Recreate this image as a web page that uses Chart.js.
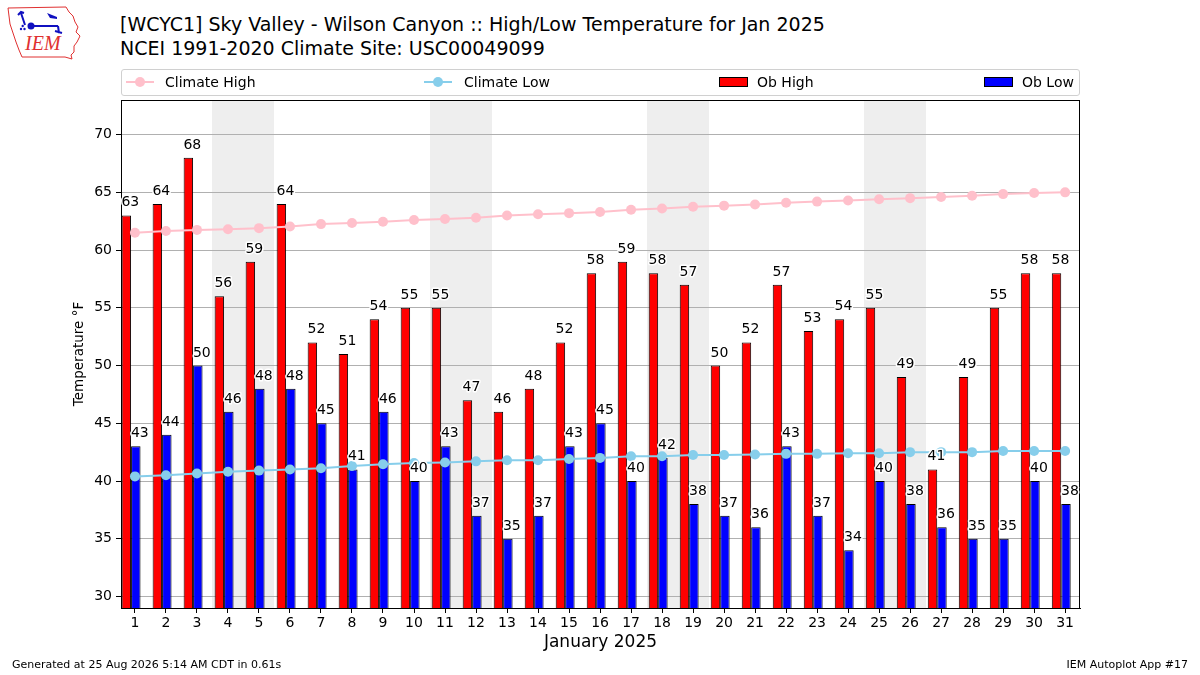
<!DOCTYPE html>
<html>
<head>
<meta charset="utf-8">
<script src="https://cdn.jsdelivr.net/npm/chart.js@4.4.1/dist/chart.umd.min.js"></script>
<style>
  html, body { margin: 0; padding: 0; background: #fff; }
  body { width: 1200px; height: 675px; position: relative; overflow: hidden; font-family: "DejaVu Sans", sans-serif; color: #000; }
  #chart { position: absolute; left: 0; top: 0; }
  .title { position: absolute; left: 120px; font-size: 19px; white-space: nowrap; line-height: 22px; }
  .legend { position: absolute; left: 121px; top: 69px; width: 957px; height: 25px; border: 1px solid #d0d0d0; border-radius: 3px; background: #fff; }
  .legend .item { position: absolute; top: 0; height: 25px; font-size: 14px; line-height: 25px; white-space: nowrap; }
  .legend .line { position: absolute; top: 11px; width: 28px; height: 2px; }
  .legend .dot { position: absolute; top: 7px; left: 9px; width: 10px; height: 10px; border-radius: 50%; }
  .legend .box { position: absolute; top: 7px; width: 27px; height: 8px; border: 1px solid #000; }
  .foot { position: absolute; top: 658px; font-size: 11px; white-space: nowrap; }
</style>
</head>
<body>
<svg style="position:absolute;left:0;top:0" width="90" height="64" viewBox="0 0 90 64">
  <path d="M8 8 L66 7 L69 12 L73 16 L75 22 L78 27 L76 32 L80 36 L77 42 L74 46 L74 52 L71 55 L72 59 L65 57 L22 57 L19 50 L16 42 L13 33 L10 24 L9 16 Z" fill="none" stroke="#e03030" stroke-width="1"/>
  <path d="M21 13 L25 25 M18 15 L21 12 L24 13 M31 26 L58 26 M58 26 L59 33 M55 31 L62 33" fill="none" stroke="#1010c0" stroke-width="2"/>
  <path d="M47 13 L57 17 L57 19 L50 18 Z" fill="#1010c0"/>
  <circle cx="31" cy="26" r="3.5" fill="#1010c0"/>
  <circle cx="21" cy="29" r="1.2" fill="#1010c0"/><circle cx="24.5" cy="29" r="1.2" fill="#1010c0"/><circle cx="22.7" cy="26" r="1.2" fill="#1010c0"/>
  <text x="25" y="50" font-family="Liberation Serif, DejaVu Serif, serif" font-style="italic" font-size="20" fill="#e03030">IEM</text>
</svg>
<div class="title" style="top:13px">[WCYC1] Sky Valley - Wilson Canyon :: High/Low Temperature for Jan 2025</div>
<div class="title" style="top:37px">NCEI 1991-2020 Climate Site: USC00049099</div>
<canvas id="chart" width="1200" height="675"></canvas>
<div class="legend">
  <div class="item" style="left:4px"><span class="line" style="left:0;background:#ffc0cb"></span><span class="dot" style="background:#ffc0cb"></span><span style="margin-left:39px">Climate High</span></div>
  <div class="item" style="left:302px"><span class="line" style="left:0;background:#87ceeb"></span><span class="dot" style="background:#87ceeb"></span><span style="margin-left:40px">Climate Low</span></div>
  <div class="item" style="left:597px"><span class="box" style="left:0;background:#ff0000"></span><span style="margin-left:38px">Ob High</span></div>
  <div class="item" style="left:862px"><span class="box" style="left:0;background:#0000ff"></span><span style="margin-left:38px">Ob Low</span></div>
</div>
<div class="foot" style="left:12px">Generated at 25 Aug 2026 5:14 AM CDT in 0.61s</div>
<div class="foot" style="right:12px">IEM Autoplot App #17</div>
<script>
const days = [1, 2, 3, 4, 5, 6, 7, 8, 9, 10, 11, 12, 13, 14, 15, 16, 17, 18, 19, 20, 21, 22, 23, 24, 25, 26, 27, 28, 29, 30, 31];
const obHigh = [63, 64, 68, 56, 59, 64, 52, 51, 54, 55, 55, 47, 46, 48, 52, 58, 59, 58, 57, 50, 52, 57, 53, 54, 55, 49, 41, 49, 55, 58, 58];
const obLow = [43, 44, 50, 46, 48, 48, 45, 41, 46, 40, 43, 37, 35, 37, 43, 45, 40, 42, 38, 37, 36, 43, 37, 34, 40, 38, 36, 35, 35, 40, 38];
const climateHigh = [61.5, 61.65, 61.75, 61.8, 61.9, 62.05, 62.25, 62.35, 62.45, 62.6, 62.7, 62.8, 63.0, 63.1, 63.2, 63.3,
  63.5, 63.6, 63.75, 63.85, 63.95, 64.1, 64.2, 64.3, 64.4, 64.5, 64.6, 64.7, 64.85, 64.95, 65.0];
const climateLow = [40.4, 40.5, 40.65, 40.8, 40.9, 41.0, 41.1, 41.3, 41.45, 41.55, 41.6, 41.7, 41.8, 41.8, 41.9, 42.0,
  42.15, 42.15, 42.25, 42.25, 42.3, 42.35, 42.35, 42.4, 42.4, 42.5, 42.5, 42.5, 42.6, 42.6, 42.6];
const yTicks = [30, 35, 40, 45, 50, 55, 60, 65, 70];

// Saturdays and Sundays of January 2025 get a grey band
const weekendDays = days.filter((d) => [0, 6].includes(new Date(2025, 0, d).getDay()));

const FONT = "'DejaVu Sans', sans-serif";
const BAR_SHIFT = -0.125;

const weekendPlugin = {
  id: "weekend",
  beforeDraw(chart) {
    const {ctx, chartArea, scales: {x}} = chart;
    // merge Sat+Sun into one band so no seam shows between them
    const spans = [];
    weekendDays.forEach((d) => {
      const last = spans[spans.length - 1];
      if (last && last[1] === d - 1) {
        last[1] = d;
      } else {
        spans.push([d, d]);
      }
    });
    ctx.save();
    ctx.fillStyle = "#eeeeee";
    spans.forEach(([d0, d1]) => {
      const x0 = Math.round(x.getPixelForValue(d0 - 0.5));
      const x1 = Math.round(x.getPixelForValue(d1 + 0.5));
      ctx.fillRect(x0, chartArea.top, x1 - x0, chartArea.bottom - chartArea.top);
    });
    ctx.restore();
  }
};

const labelPlugin = {
  id: "barLabels",
  afterDatasetsDraw(chart) {
    const {ctx, chartArea} = chart;
    ctx.save();
    ctx.strokeStyle = "#000";
    ctx.lineWidth = 1;
    ctx.strokeRect(chartArea.left + 0.5, chartArea.top + 0.5, chartArea.right - chartArea.left - 1, chartArea.bottom - chartArea.top);
    ctx.font = `14px ${FONT}`;
    ctx.textAlign = "center";
    ctx.textBaseline = "alphabetic";
    ctx.lineJoin = "round";
    chart.data.datasets.forEach((ds, i) => {
      if (ds.type !== "bar") return;
      chart.getDatasetMeta(i).data.forEach((bar, j) => {
        const text = String(ds.data[j].y);
        ctx.strokeStyle = "#fff";
        ctx.lineWidth = 3;
        ctx.strokeText(text, bar.x + 4, bar.y - 9);
        ctx.fillStyle = "#000";
        ctx.fillText(text, bar.x + 4, bar.y - 9);
      });
    });
    ctx.restore();
  }
};

new Chart(document.getElementById("chart"), {
  data: {
    datasets: [
      {
        type: "line",
        label: "Climate High",
        data: days.map((d, i) => ({x: d, y: climateHigh[i]})),
        borderColor: "#ffc0cb",
        backgroundColor: "#ffc0cb",
        borderWidth: 2,
        pointRadius: 5,
        pointBorderWidth: 0,
        tension: 0
      },
      {
        type: "line",
        label: "Climate Low",
        data: days.map((d, i) => ({x: d, y: climateLow[i]})),
        borderColor: "#87ceeb",
        backgroundColor: "#87ceeb",
        borderWidth: 2,
        pointRadius: 5,
        pointBorderWidth: 0,
        tension: 0
      },
      {
        type: "bar",
        label: "Ob High",
        data: days.map((d, i) => ({x: d + BAR_SHIFT, y: obHigh[i]})),
        backgroundColor: "#ff0000",
        borderColor: "#000",
        borderWidth: 1,
        borderSkipped: false,
        categoryPercentage: 0.61,
        barPercentage: 1.0
      },
      {
        type: "bar",
        label: "Ob Low",
        data: days.map((d, i) => ({x: d + BAR_SHIFT, y: obLow[i]})),
        backgroundColor: "#0000ff",
        borderColor: "#000",
        borderWidth: 1,
        borderSkipped: false,
        categoryPercentage: 0.61,
        barPercentage: 1.0
      }
    ]
  },
  options: {
    responsive: false,
    animation: false,
    devicePixelRatio: 1,
    layout: {padding: {left: 0, right: 120, top: 100, bottom: 0}},
    plugins: {legend: {display: false}, tooltip: {enabled: false}},
    scales: {
      x: {
        type: "linear",
        offset: false,
        min: 0.55,
        max: 31.48,
        afterFit: (scale) => { scale.height = 67; },
        afterBuildTicks: (scale) => { scale.ticks = days.map((d) => ({value: d})); },
        ticks: {stepSize: 1, includeBounds: false, color: "#000", font: {family: FONT, size: 14}, padding: 2, maxRotation: 0, autoSkip: false},
        grid: {offset: false, drawOnChartArea: false, drawTicks: true, tickLength: 5, tickColor: "#000"},
        border: {color: "#000", width: 1},
        title: {display: true, text: "January 2025", color: "#000", font: {family: FONT, size: 17}, padding: {top: 0, bottom: 22}}
      },
      y: {
        type: "linear",
        min: 29,
        max: 73,
        afterFit: (scale) => { scale.width = 121; },
        afterBuildTicks: (scale) => { scale.ticks = yTicks.map((v) => ({value: v})); },
        ticks: {color: "#000", font: {family: FONT, size: 14}, padding: 4},
        grid: {color: "#b0b0b0", lineWidth: 1, tickLength: 5, tickColor: "#000"},
        border: {color: "#000", width: 1},
        title: {display: true, text: "Temperature °F", color: "#000", font: {family: FONT, size: 13.5}, padding: {top: 71, bottom: 0}}
      }
    }
  },
  plugins: [weekendPlugin, labelPlugin]
});
</script>
</body>
</html>
